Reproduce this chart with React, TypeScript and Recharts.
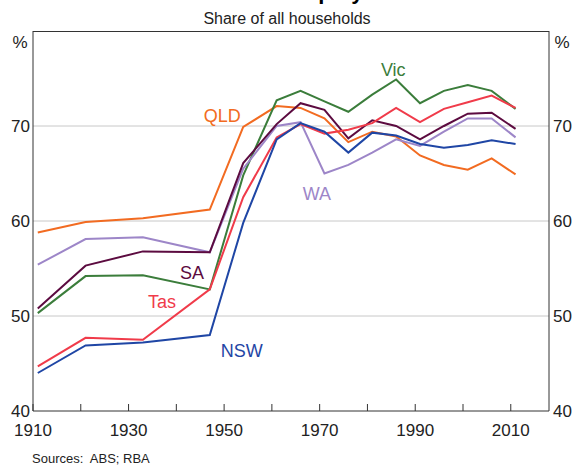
import React from 'react';
import {
  LineChart,
  Line,
  XAxis,
  YAxis,
  CartesianGrid,
  ReferenceDot,
} from 'recharts';

const years = [1911, 1921, 1933, 1947, 1954, 1961, 1966, 1971, 1976, 1981, 1986, 1991, 1996, 2001, 2006, 2011];

const nsw = [44.0, 46.9, 47.2, 48.0, 59.8, 68.6, 70.3, 69.4, 67.2, 69.3, 69.0, 68.1, 67.7, 68.0, 68.5, 68.1];
const vic = [50.3, 54.2, 54.3, 52.8, 64.8, 72.7, 73.7, 72.6, 71.5, 73.3, 74.9, 72.4, 73.7, 74.3, 73.7, 71.8];
const qld = [58.8, 59.9, 60.3, 61.2, 69.9, 72.1, 71.9, 70.8, 68.3, 69.4, 68.9, 66.9, 65.9, 65.4, 66.6, 64.9];
const sa = [50.8, 55.3, 56.8, 56.7, 66.1, 70.2, 72.4, 71.7, 68.7, 70.6, 70.0, 68.6, 70.0, 71.3, 71.4, 69.7];
const wa = [55.4, 58.1, 58.3, 56.7, 65.5, 70.0, 70.4, 65.0, 65.9, 67.2, 68.6, 67.9, 69.4, 70.8, 70.8, 68.8];
const tas = [44.7, 47.7, 47.5, 52.8, 62.5, 68.8, 70.2, 69.2, 69.6, 70.3, 71.9, 70.4, 71.8, 72.5, 73.2, 71.9];

const xTicks = [1910, 1920, 1930, 1940, 1950, 1960, 1970, 1980, 1990, 2000, 2010];
const yTicks = [40, 50, 60, 70, 80];

// vic is plotted against the right axis (same domain) so that axis gets drawn
const series = [
  { key: 'qld', name: 'QLD', color: '#f26b21', labelAt: [1949.6, 71.1], alt: false },
  { key: 'vic', name: 'Vic', color: '#3b7d3b', labelAt: [1985.4, 75.9], alt: true },
  { key: 'wa', name: 'WA', color: '#9d86c8', labelAt: [1969.4, 62.9], alt: false },
  { key: 'sa', name: 'SA', color: '#5c0b40', labelAt: [1943.3, 54.6], alt: false },
  { key: 'tas', name: 'Tas', color: '#f03b4a', labelAt: [1937.0, 51.5], alt: false },
  { key: 'nsw', name: 'NSW', color: '#1f46a5', labelAt: [1953.7, 46.4], alt: false },
];

const data = years.map((year, i) => ({
  year,
  nsw: nsw[i],
  vic: vic[i],
  qld: qld[i],
  sa: sa[i],
  wa: wa[i],
  tas: tas[i],
}));

const FONT = 'Arial, "Liberation Sans", sans-serif';

const YearTick = (props: any) => {
  const { x, y, payload } = props;
  const showLabel = (payload.value - 1910) % 20 === 0;
  return (
    <g>
      <line x1={x} x2={x} y1={y} y2={y - 7} stroke="#333" strokeWidth={1} />
      {showLabel && (
        <text x={x} y={y + 25} textAnchor="middle" fontSize={17} fill="#222" fontFamily={FONT}>
          {payload.value}
        </text>
      )}
    </g>
  );
};

const ValueTick = (props: any) => {
  const { x, y, payload, side } = props;
  if (payload.value === 80) return <g />;
  return (
    <text
      x={side === 'right' ? x + 4 : x - 3}
      y={y + 6}
      textAnchor={side === 'right' ? 'start' : 'end'}
      fontSize={17}
      fill="#222"
      fontFamily={FONT}
    >
      {payload.value}
    </text>
  );
};

const App = () => {
  return (
    <div style={{ position: 'absolute', left: 0, top: 0, width: 575, height: 469, background: '#fff' }}>
      <LineChart
        width={575}
        height={469}
        data={data}
        margin={{ top: 31, right: 0, bottom: 28, left: 0 }}
      >
        <CartesianGrid vertical={false} horizontalValues={[50, 60, 70]} stroke="#c8c8c8" strokeWidth={1} />
        <XAxis
          dataKey="year"
          type="number"
          domain={[1910, 2018]}
          ticks={xTicks}
          allowDataOverflow
          height={30}
          tickSize={0}
          tickMargin={0}
          tickLine={false}
          axisLine={{ stroke: '#333' }}
          tick={<YearTick />}
          interval={0}
        />
        <YAxis
          domain={[40, 80]}
          ticks={yTicks}
          width={33}
          tickLine={false}
          tickSize={0}
          tickMargin={0}
          axisLine={{ stroke: '#333' }}
          tick={<ValueTick side="left" />}
          interval={0}
        />
        <YAxis
          yAxisId="right"
          orientation="right"
          domain={[40, 80]}
          ticks={yTicks}
          width={26}
          tickLine={false}
          tickSize={0}
          tickMargin={0}
          axisLine={{ stroke: '#333' }}
          tick={<ValueTick side="right" />}
          interval={0}
        />
        {series.map((s) => (
          <Line
            key={s.key}
            type="linear"
            dataKey={s.key}
            name={s.name}
            yAxisId={s.alt ? 'right' : 0}
            stroke={s.color}
            strokeWidth={2}
            dot={false}
            isAnimationActive={false}
          />
        ))}
        {series.map((s) => (
          <ReferenceDot
            key={'lbl-' + s.key}
            x={s.labelAt[0]}
            y={s.labelAt[1]}
            r={1}
            fill="none"
            stroke="none"
            label={{ value: s.name, position: 'center', fill: s.color, fontSize: 18, fontFamily: FONT }}
          />
        ))}
      </LineChart>
      <svg
        width={575}
        height={469}
        style={{ position: 'absolute', left: 0, top: 0, pointerEvents: 'none' }}
      >
        {/* top edge of the plot frame */}
        <line x1={33} x2={549} y1={31.5} y2={31.5} stroke="#333" strokeWidth={1} />
        <text x={287} y={-1} textAnchor="middle" fontSize={22} fontWeight="bold" fill="#000" fontFamily={FONT}>
          Home Ownership by State
        </text>
        <text x={287} y={24} textAnchor="middle" fontSize={16} fill="#222" fontFamily={FONT}>
          Share of all households
        </text>
        <text x={20} y={48} textAnchor="middle" fontSize={17} fill="#222" fontFamily={FONT}>
          %
        </text>
        <text x={562} y={48} textAnchor="middle" fontSize={17} fill="#222" fontFamily={FONT}>
          %
        </text>
        <text x={32} y={463} fontSize={13} fill="#222" fontFamily={FONT} style={{ whiteSpace: 'pre' }}>
          {'Sources:  ABS; RBA'}
        </text>
      </svg>
    </div>
  );
};

export default App;
